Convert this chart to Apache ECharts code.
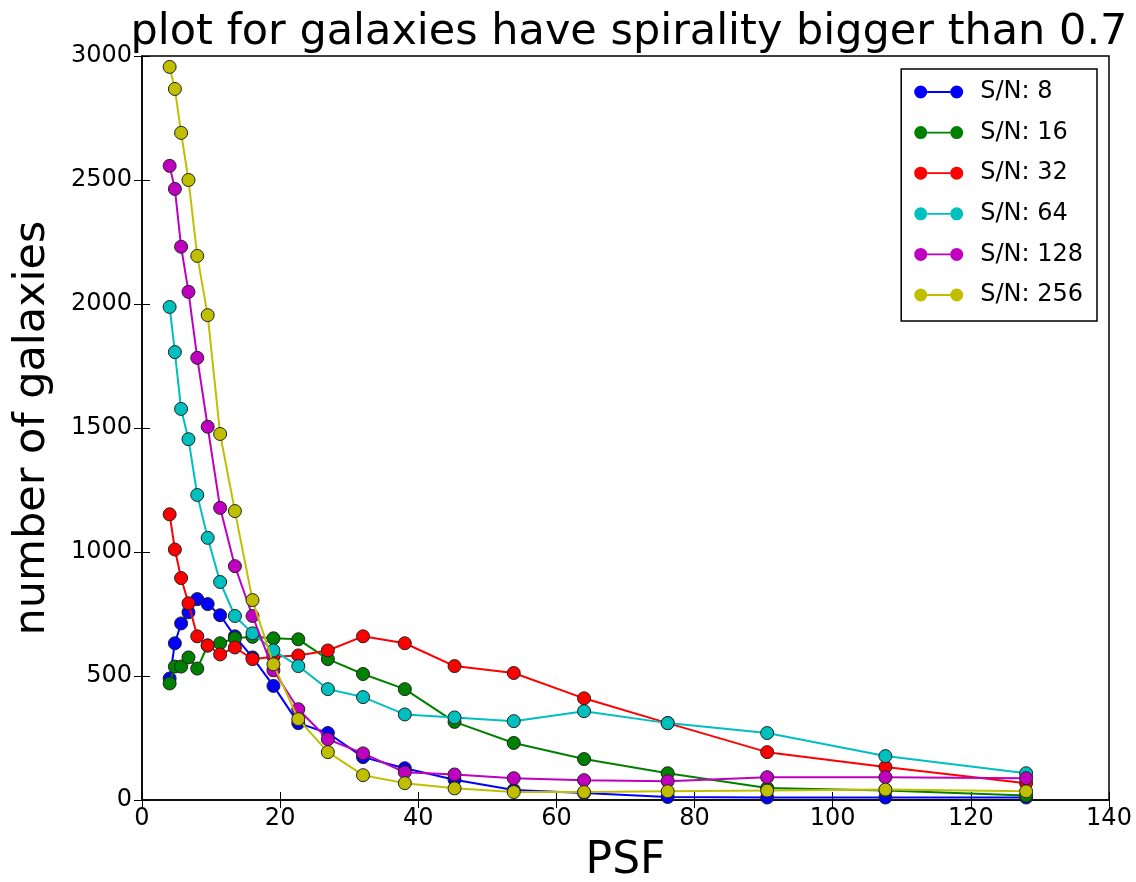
<!DOCTYPE html>
<html>
<head>
<meta charset="utf-8">
<title>galaxies spirality</title>
<script src="https://cdn.jsdelivr.net/npm/echarts@6/dist/echarts.min.js"></script>
<style>
  html, body { margin: 0; padding: 0; background: #fff; }
  #main { width: 1136px; height: 882px; }
</style>
</head>
<body>
<div id="main"></div>
<script>
// PSF values (x axis)
const psf = [4, 4.76, 5.66, 6.73, 8, 9.51, 11.31, 13.45, 16, 19.03, 22.63, 26.91, 32, 38.05, 45.25, 53.82, 64, 76.11, 90.51, 107.63, 128];

// number of galaxies per S/N
const sn8   = [490, 632, 712, 757, 810, 790, 745, 660, 575, 460, 310, 270, 173, 128, 82, 40, 28, 12, 10, 10, 10];
const sn16  = [470, 538, 538, 575, 530, 623, 632, 652, 658, 652, 648, 568, 508, 447, 315, 230, 165, 108, 48, 38, 18];
const sn32  = [1152, 1010, 895, 793, 660, 623, 587, 615, 568, 578, 583, 603, 660, 632, 540, 512, 410, 310, 193, 133, 68];
const sn64  = [1988, 1806, 1577, 1455, 1230, 1057, 879, 742, 672, 603, 540, 447, 415, 345, 333, 318, 358, 310, 270, 177, 108];
const sn128 = [2557, 2464, 2231, 2049, 1783, 1505, 1178, 943, 742, 523, 366, 245, 188, 112, 103, 88, 80, 76, 92, 92, 88];
const sn256 = [2956, 2867, 2690, 2500, 2194, 1955, 1476, 1165, 806, 547, 326, 193, 100, 68, 47, 32, 32, 35, 38, 42, 35];

const seriesNames = ['S/N: 8', 'S/N: 16', 'S/N: 32', 'S/N: 64', 'S/N: 128', 'S/N: 256'];
const seriesValues = [sn8, sn16, sn32, sn64, sn128, sn256];
const colors = ['#0000ff', '#008000', '#ff0000', '#00bfbf', '#bf00bf', '#bfbf00'];

const font = 'DejaVu Sans';

let chartDom = document.getElementById('main');
let myChart = echarts.init(chartDom);
let option;

function pairs(ys) {
  return psf.map((x, i) => [x, ys[i]]);
}

// two markers joined by a line, like the matplotlib legend
const legendIcon = 'path://M0,6.5a6.5,6.5 0 1,0 13,0a6.5,6.5 0 1,0 -13,0Z' +
  'M13,5.6h23v1.8h-23Z' +
  'M36,6.5a6.5,6.5 0 1,0 13,0a6.5,6.5 0 1,0 -13,0Z';

const tickInside = { show: true, inside: true, length: 8, lineStyle: { color: '#000', width: 1 } };

option = {
  animation: false,
  backgroundColor: '#fff',
  title: {
    text: 'plot for galaxies have spirality bigger than 0.7',
    left: 624,
    textAlign: 'center',
    top: 6,
    textStyle: { fontFamily: font, fontSize: 43, fontWeight: 'normal', color: '#000' }
  },
  legend: {
    orient: 'vertical',
    right: 39,
    top: 69,
    padding: [11, 14, 14, 13],
    itemWidth: 49,
    itemHeight: 13,
    itemGap: 16.6,
    icon: legendIcon,
    borderColor: '#000',
    borderWidth: 1.5,
    borderRadius: 0,
    backgroundColor: '#fff',
    itemStyle: { borderWidth: 0 },
    textStyle: { fontFamily: font, fontSize: 24, color: '#000', padding: [0, 0, 0, 12], lineHeight: 24 },
    data: seriesNames
  },
  grid: {
    left: 142,
    right: 27,
    top: 56,
    bottom: 82,
    outerBoundsMode: 'none',
    show: true,
    borderColor: '#000',
    borderWidth: 1.5
  },
  xAxis: [{
    type: 'value',
    min: 0,
    max: 140,
    interval: 20,
    name: 'PSF',
    nameLocation: 'middle',
    nameGap: 40,
    nameTextStyle: { fontFamily: font, fontSize: 44, color: '#000' },
    axisLine: { show: true, lineStyle: { color: '#000', width: 1.5 } },
    axisTick: tickInside,
    axisLabel: { fontFamily: font, fontSize: 24, color: '#000', margin: 7 },
    splitLine: { show: false }
  }, {
    type: 'value',
    position: 'top',
    min: 0,
    max: 140,
    interval: 20,
    axisLine: { show: false },
    axisTick: tickInside,
    axisLabel: { show: false },
    splitLine: { show: false }
  }],
  yAxis: [{
    type: 'value',
    min: 0,
    max: 3000,
    interval: 500,
    name: 'number of galaxies',
    nameLocation: 'middle',
    nameGap: 88,
    nameTextStyle: { fontFamily: font, fontSize: 43, color: '#000' },
    axisLine: { show: true, lineStyle: { color: '#000', width: 1.5 } },
    axisTick: tickInside,
    axisLabel: { fontFamily: font, fontSize: 24, color: '#000', margin: 10, formatter: v => String(v) },
    splitLine: { show: false }
  }, {
    type: 'value',
    position: 'right',
    min: 0,
    max: 3000,
    interval: 500,
    axisLine: { show: false },
    axisTick: tickInside,
    axisLabel: { show: false },
    splitLine: { show: false }
  }],
  series: seriesNames.map((name, i) => ({
    name: name,
    type: 'line',
    xAxisIndex: 0,
    yAxisIndex: 0,
    data: pairs(seriesValues[i]),
    symbol: 'circle',
    symbolSize: 13,
    showAllSymbol: true,
    z: 2 + i,
    lineStyle: { color: colors[i], width: 2 },
    itemStyle: { color: colors[i], borderColor: '#222', borderWidth: 1 }
  }))
};

option && myChart.setOption(option);
</script>
</body>
</html>
